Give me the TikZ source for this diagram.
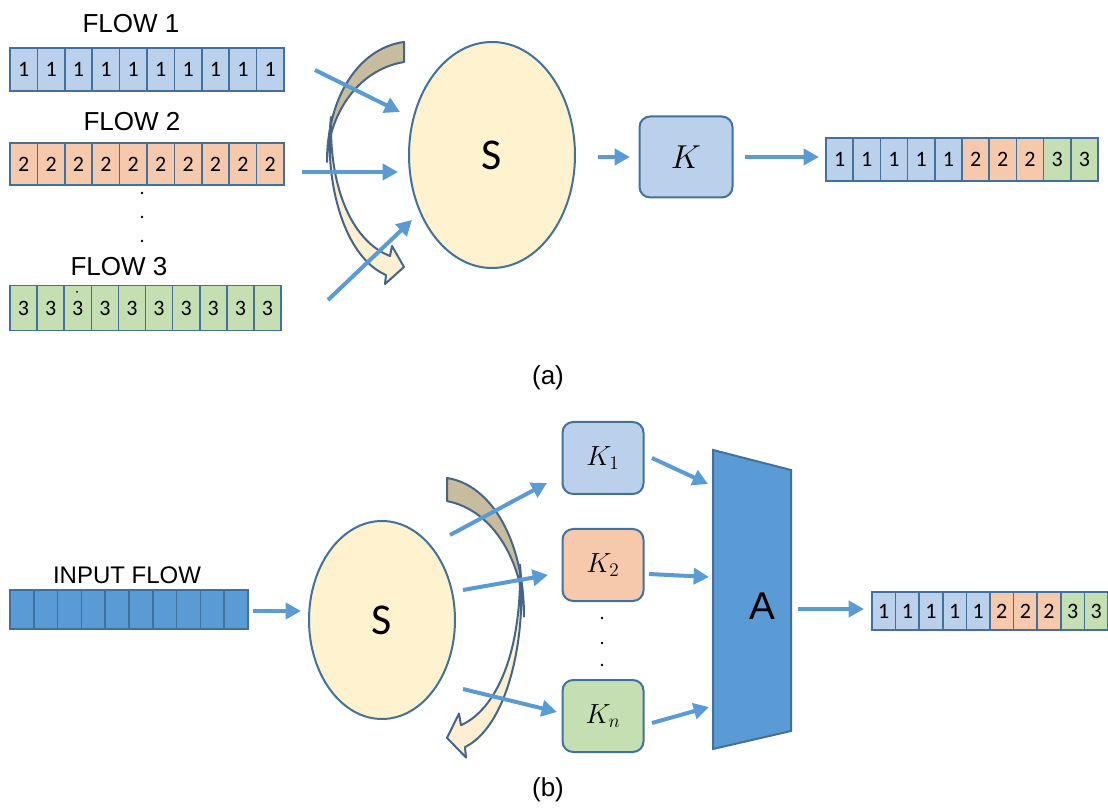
\documentclass[tikz,border=0pt]{standalone}
\usepackage{fontspec}
\setmainfont{Liberation Sans}
\newfontfamily\calib{Carlito}
\usetikzlibrary{arrows.meta,shapes.geometric}
\definecolor{ol}{RGB}{65,113,156}
\definecolor{ablue}{RGB}{91,155,213}
\definecolor{lb}{RGB}{186,208,235}
\definecolor{lo}{RGB}{247,201,172}
\definecolor{lg}{RGB}{197,223,179}
\definecolor{ely}{RGB}{255,242,206}
\definecolor{tanc}{RGB}{200,188,158}
\definecolor{yelc}{RGB}{253,240,210}
\definecolor{cline}{RGB}{70,100,135}
\newcommand\cellrow[6]{%
  \pgfmathsetmacro\cw{#4*0.75}\pgfmathsetmacro\ch{#5*0.75}%
  \foreach \f/\d [count=\i] in {#6} {
    \node[cell, fill=\f, minimum width=\cw pt, minimum height=\ch pt] (#1\i) at ({#2+(\i-0.5)*#4},#3) {\d};
  }}
\begin{document}
\begin{tikzpicture}[x=0.75pt,y=-0.75pt,
  cell/.style={draw=ol, line width=1.2pt, inner sep=0pt, font=\calib\fontsize{16.5}{16.5}\selectfont},
  arr/.style={draw=ablue, line width=3pt, -{Triangle[length=11.5pt,width=12pt]}},
  lbl/.style={inner sep=0pt, font=\fontsize{19.5}{20}\selectfont},
  sell/.style={ellipse, draw=ol, line width=1.5pt, fill=ely, inner sep=0pt, font=\calib\fontsize{33}{33}\selectfont},
  kbox/.style={draw=ol, line width=1.5pt, rounded corners=8pt, inner sep=0pt},
  dotn/.style={circle, fill=black, inner sep=0pt, minimum size=2.2pt},
  curvarrow/.pic={
    \draw[cline, line width=1.5pt, fill=tanc, line join=round]
      (0,0) .. controls (-45,6) and (-77,55) .. (-77,120)
      .. controls (-76,75) and (-48,28) .. (0,20) -- cycle;
    \draw[cline, line width=1.5pt, fill=yelc, line join=round]
      (-73,75) .. controls (-80,140) and (-60,215) .. (-18,233)
      -- (-19,242) -- (0,225) -- (-12,204) -- (-14,214)
      .. controls (-50,200) and (-75,150) .. (-73,75) -- cycle;
  }]
\useasboundingbox (0,0) rectangle (1108,809);

% ---------------- (a) ----------------
\node[lbl] (fl1) at (131,24) {FLOW 1};
\node[lbl] (fl2) at (132,122) {FLOW 2};
\node[lbl] (fl3) at (119,267) {FLOW 3};
\cellrow{fa}{10}{69.5}{27.4}{43}{lb/1,lb/1,lb/1,lb/1,lb/1,lb/1,lb/1,lb/1,lb/1,lb/1}
\cellrow{fb}{10}{164}{27.4}{42}{lo/2,lo/2,lo/2,lo/2,lo/2,lo/2,lo/2,lo/2,lo/2,lo/2}
\cellrow{fc}{10}{308}{27.1}{45}{lg/3,lg/3,lg/3,lg/3,lg/3,lg/3,lg/3,lg/3,lg/3,lg/3}
\node[dotn] (da1) at (142,193) {};
\node[dotn] (da2) at (142,217) {};
\node[dotn] (da3) at (142,241) {};
\node[dotn, minimum size=1.5pt] (da4) at (77,292) {};

\pic at (404,42) {curvarrow};

\node[sell, minimum width=124.5pt, minimum height=169.5pt] (Sa) at (492,155) {S};
\node[kbox, fill=lb, minimum width=69.75pt, minimum height=60.75pt, font=\fontsize{28}{28}\selectfont] (K) at (686,157) {$K$};
\cellrow{oa}{826}{159.5}{27.2}{43}{lb/1,lb/1,lb/1,lb/1,lb/1,lo/2,lo/2,lo/2,lg/3,lg/3}

\coordinate (a1s) at (315,70);  \coordinate (a1e) at (400,112);
\coordinate (a2s) at (302,172); \coordinate (a2e) at (398,172);
\coordinate (a3s) at (328,300); \coordinate (a3e) at (412,220);
\coordinate (a4s) at (598,157); \coordinate (a4e) at (630,157);
\coordinate (a5s) at (745,157); \coordinate (a5e) at (819,157);
\draw[arr] (a1s) -- (a1e);
\draw[arr] (a2s) -- (a2e);
\draw[arr] (a3s) -- (a3e);
\draw[arr] (a4s) -- (a4e);
\draw[arr] (a5s) -- (a5e);
\node[lbl] (capa) at (548,378) {(a)};

% ---------------- (b) ----------------
\node[lbl, font=\fontsize{18}{18}\selectfont] (inl) at (127,575) {INPUT FLOW};
\cellrow{ib}{10}{609.5}{23.8}{39}{ablue/{},ablue/{},ablue/{},ablue/{},ablue/{},ablue/{},ablue/{},ablue/{},ablue/{},ablue/{}}

\pic[xscale=-1, yscale=1.155] at (447,478) {curvarrow};

\node[sell, minimum width=109.5pt, minimum height=148.5pt] (Sb) at (382,620) {S};
\node[kbox, fill=lb, minimum width=60.75pt, minimum height=54pt, font=\fontsize{20}{20}\selectfont] (K1) at (603,458) {$K_1$};
\node[kbox, fill=lo, minimum width=60.75pt, minimum height=54pt, font=\fontsize{20}{20}\selectfont] (K2) at (603,565) {$K_2$};
\node[kbox, fill=lg, minimum width=60.75pt, minimum height=54pt, font=\fontsize{20}{20}\selectfont] (Kn) at (603,716) {$K_n$};
\node[dotn] (db1) at (602,618) {};
\node[dotn] (db2) at (602,643) {};
\node[dotn] (db3) at (602,665) {};

\coordinate (A1) at (713,450); \coordinate (A2) at (791,470);
\coordinate (A3) at (791,731); \coordinate (A4) at (713,749);
\draw[fill=ablue, draw=ol, line width=1.5pt] (A1) -- (A2) -- (A3) -- (A4) -- cycle;
\node[inner sep=0pt, font=\fontsize{29}{29}\selectfont] (A) at (762,606) {A};

\cellrow{ob}{872}{611}{23.6}{38}{lb/1,lb/1,lb/1,lb/1,lb/1,lo/2,lo/2,lo/2,lg/3,lg/3}

\coordinate (b0s) at (253,611); \coordinate (b0e) at (301,611);
\coordinate (b1s) at (450,535); \coordinate (b1e) at (547,483);
\coordinate (b2s) at (463,590); \coordinate (b2e) at (548,575);
\coordinate (b3s) at (463,689); \coordinate (b3e) at (557,712);
\coordinate (b4s) at (652,458); \coordinate (b4e) at (708,484);
\coordinate (b5s) at (649,574); \coordinate (b5e) at (709,577);
\coordinate (b6s) at (652,723); \coordinate (b6e) at (709,707);
\coordinate (b7s) at (798,609); \coordinate (b7e) at (864,609);
\foreach \k in {0,...,7} {\draw[arr] (b\k s) -- (b\k e);}
\node[lbl] (capb) at (548,790) {(b)};
\end{tikzpicture}
\end{document}
